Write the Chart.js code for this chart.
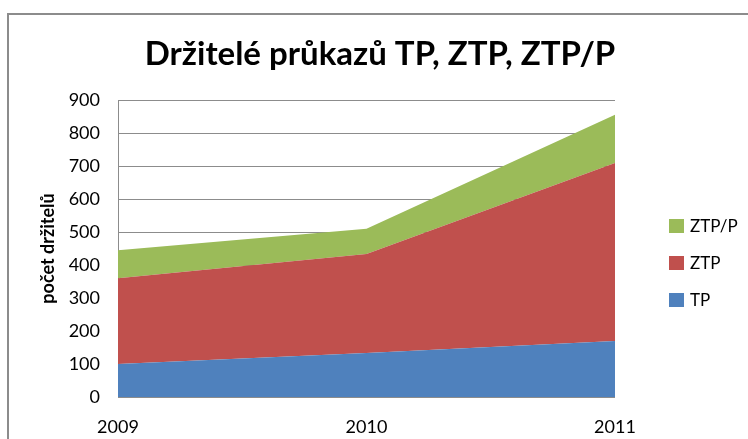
<!DOCTYPE html>
<html>
<head>
<meta charset="utf-8">
<script src="https://cdn.jsdelivr.net/npm/chart.js@4/dist/chart.umd.min.js"></script>
<style>
  body { margin: 0; background: #fff; }
  #wrap { position: relative; width: 748px; height: 439px; overflow: hidden; }
  #frame { position: absolute; left: 7px; top: 13px; width: 800px; height: 500px;
           border-top: 2px solid #8c8c8c; border-left: 2px solid #8c8c8c; }
  #chart { position: absolute; left: 0; top: 0; }
</style>
</head>
<body>
<div id="wrap">
  <div id="frame"></div>
  <canvas id="chart" width="748" height="439"></canvas>
</div>
<script>
const years = ["2009", "2010", "2011"];
const tp = [100, 133, 170];
const ztp = [260, 300, 539];
const ztpP = [85, 77, 146];
const chartTitle = "Držitelé průkazů TP, ZTP, ZTP/P";

const fontName = "Lato, 'Open Sans', sans-serif";

// title centred over the whole frame + legend on the right (reverse order)
const sideLegend = {
  id: "sideLegend",
  afterDraw(chart) {
    const ctx = chart.ctx;
    const sets = chart.data.datasets;
    ctx.save();
    ctx.fillStyle = "#000";
    ctx.font = "bold 33px " + fontName;
    ctx.textAlign = "center";
    ctx.textBaseline = "alphabetic";
    ctx.fillText(chartTitle, 380, 65);

    ctx.font = "17px " + fontName;
    ctx.textBaseline = "middle";
    ctx.textAlign = "left";
    for (let i = sets.length - 1, row = 0; i >= 0; i--, row++) {
      let y = 226 + row * 37;
      ctx.fillStyle = sets[i].backgroundColor;
      ctx.fillRect(669, y - 7, 15, 14);
      ctx.fillStyle = "#000";
      ctx.fillText(sets[i].label, 690, y + 1);
    }
    ctx.restore();
  },
};

new Chart("chart", {
  type: "line",
  data: {
    labels: years,
    datasets: [
      { label: "TP", data: tp, backgroundColor: "#4F81BD", fill: "origin" },
      { label: "ZTP", data: ztp, backgroundColor: "#C0504D", fill: "-1" },
      { label: "ZTP/P", data: ztpP, backgroundColor: "#9BBB59", fill: "-1" },
    ],
  },
  options: {
    responsive: false,
    animation: false,
    elements: {
      point: { radius: 0 },
      line: { borderWidth: 0, tension: 0 },
    },
    layout: { padding: { left: 0, right: 133, top: 100, bottom: 0 } },
    plugins: {
      legend: { display: false },
      tooltip: { enabled: false },
      title: { display: false },
    },
    scales: {
      x: {
        offset: false,
        grid: { display: false },
        border: { display: false },
        ticks: {
          color: "#000",
          padding: 11,
          maxRotation: 0,
          font: { family: fontName, size: 18 },
        },
        afterFit(axis) {
          axis.height = 42;
        },
      },
      y: {
        stacked: true,
        min: 0,
        max: 900,
        ticks: {
          stepSize: 100,
          color: "#000",
          padding: 18,
          font: { family: fontName, size: 18 },
        },
        grid: { color: "#8c8c8c", drawTicks: false },
        border: { color: "#8c8c8c" },
        title: {
          display: true,
          text: "počet držitelů",
          color: "#000",
          font: { family: fontName, size: 18, weight: "bold" },
          padding: { top: 37, bottom: 0 },
        },
        afterFit(axis) {
          axis.width = 118;
        },
      },
    },
  },
  plugins: [sideLegend],
});
</script>
</body>
</html>
